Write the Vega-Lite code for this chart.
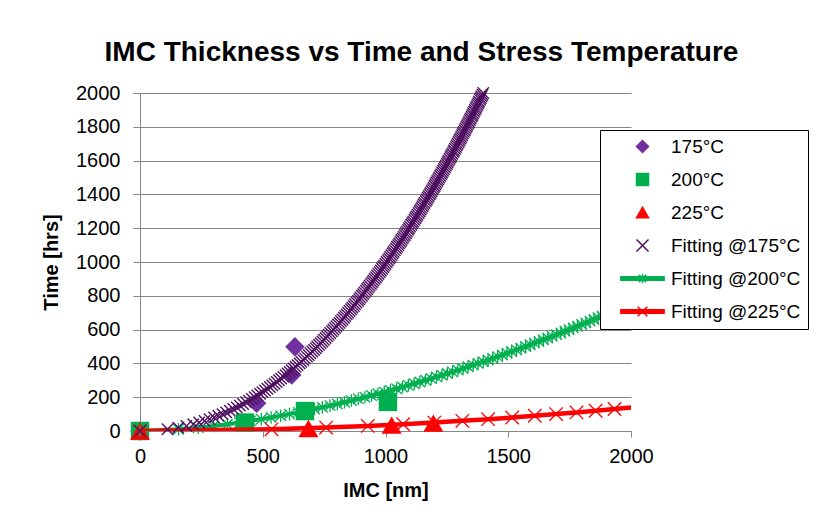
{
  "$schema": "https://vega.github.io/schema/vega-lite/v6.json",
  "width": 491,
  "height": 338,
  "autosize": {"type": "none"},
  "padding": {"left": 140, "top": 93, "right": 187, "bottom": 89},
  "background": "white",
  "title": {
    "text": "IMC Thickness vs Time and Stress Temperature",
    "font": "Liberation Sans",
    "fontSize": 28,
    "fontWeight": "bold",
    "color": "black",
    "anchor": "middle",
    "frame": "group",
    "dx": 36,
    "offset": 16
  },
  "config": {
    "view": {"stroke": null},
    "font": "Liberation Sans",
    "axis": {
      "domainColor": "#868686",
      "tickColor": "#868686",
      "gridColor": "#868686",
      "labelColor": "black",
      "titleColor": "black",
      "labelFont": "Liberation Sans",
      "titleFont": "Liberation Sans",
      "labelFontSize": 20,
      "titleFontSize": 20,
      "titleFontWeight": "bold",
      "labelFlush": false,
      "labelOverlap": false,
      "format": "d"
    },
    "legend": {
      "orient": "none",
      "legendX": 460,
      "legendY": 37,
      "strokeColor": "black",
      "fillColor": "white",
      "padding": 7,
      "labelFont": "Liberation Sans",
      "labelFontSize": 19,
      "labelColor": "black",
      "symbolSize": 144,
      "symbolOffset": 26,
      "labelOffset": 19,
      "rowPadding": 13,
      "symbolStrokeWidth": 1.5,
      "symbolOpacity": 1
    }
  },
  "datasets": {
    "m175": [{"x": 0, "t": 0}, {"x": 475, "t": 164}, {"x": 618, "t": 331}, {"x": 631, "t": 499}],
    "m200": [{"x": 0, "t": 0}, {"x": 428, "t": 50}, {"x": 672, "t": 118}, {"x": 1010, "t": 172}],
    "m225": [{"x": 0, "t": 0}, {"x": 686, "t": 15}, {"x": 1025, "t": 35}, {"x": 1195, "t": 47}],
    "f175": [
      {"x":0,"t":0},{"x":112,"t":10},{"x":156,"t":20},{"x":189,"t":30},{"x":217,"t":40},{"x":241,"t":50},{"x":263,"t":60},{"x":283,"t":70},{"x":302,"t":80},{"x":319,"t":90},
      {"x":336,"t":100},{"x":351,"t":110},{"x":366,"t":120},{"x":380,"t":130},{"x":394,"t":140},{"x":407,"t":150},{"x":420,"t":160},{"x":432,"t":170},{"x":444,"t":180},{"x":456,"t":190},
      {"x":467,"t":200},{"x":478,"t":210},{"x":489,"t":220},{"x":499,"t":230},{"x":509,"t":240},{"x":519,"t":250},{"x":529,"t":260},{"x":539,"t":270},{"x":548,"t":280},{"x":557,"t":290},
      {"x":566,"t":300},{"x":575,"t":310},{"x":584,"t":320},{"x":593,"t":330},{"x":601,"t":340},{"x":610,"t":350},{"x":618,"t":360},{"x":626,"t":370},{"x":634,"t":380},{"x":642,"t":390},
      {"x":650,"t":400},{"x":657,"t":410},{"x":665,"t":420},{"x":672,"t":430},{"x":680,"t":440},{"x":687,"t":450},{"x":694,"t":460},{"x":702,"t":470},{"x":709,"t":480},{"x":716,"t":490},
      {"x":722,"t":500},{"x":729,"t":510},{"x":736,"t":520},{"x":743,"t":530},{"x":749,"t":540},{"x":756,"t":550},{"x":763,"t":560},{"x":769,"t":570},{"x":775,"t":580},{"x":782,"t":590},
      {"x":788,"t":600},{"x":794,"t":610},{"x":800,"t":620},{"x":807,"t":630},{"x":813,"t":640},{"x":819,"t":650},{"x":825,"t":660},{"x":831,"t":670},{"x":836,"t":680},{"x":842,"t":690},
      {"x":848,"t":700},{"x":854,"t":710},{"x":860,"t":720},{"x":865,"t":730},{"x":871,"t":740},{"x":876,"t":750},{"x":882,"t":760},{"x":888,"t":770},{"x":893,"t":780},{"x":898,"t":790},
      {"x":904,"t":800},{"x":909,"t":810},{"x":914,"t":820},{"x":920,"t":830},{"x":925,"t":840},{"x":930,"t":850},{"x":935,"t":860},{"x":941,"t":870},{"x":946,"t":880},{"x":951,"t":890},
      {"x":956,"t":900},{"x":961,"t":910},{"x":966,"t":920},{"x":971,"t":930},{"x":976,"t":940},{"x":981,"t":950},{"x":986,"t":960},{"x":991,"t":970},{"x":995,"t":980},{"x":1000,"t":990},
      {"x":1005,"t":1000},{"x":1010,"t":1010},{"x":1015,"t":1020},{"x":1019,"t":1030},{"x":1024,"t":1040},{"x":1029,"t":1050},{"x":1033,"t":1060},{"x":1038,"t":1070},{"x":1043,"t":1080},{"x":1047,"t":1090},
      {"x":1052,"t":1100},{"x":1056,"t":1110},{"x":1061,"t":1120},{"x":1065,"t":1130},{"x":1070,"t":1140},{"x":1074,"t":1150},{"x":1079,"t":1160},{"x":1083,"t":1170},{"x":1087,"t":1180},{"x":1092,"t":1190},
      {"x":1096,"t":1200},{"x":1100,"t":1210},{"x":1105,"t":1220},{"x":1109,"t":1230},{"x":1113,"t":1240},{"x":1118,"t":1250},{"x":1122,"t":1260},{"x":1126,"t":1270},{"x":1130,"t":1280},{"x":1135,"t":1290},
      {"x":1139,"t":1300},{"x":1143,"t":1310},{"x":1147,"t":1320},{"x":1151,"t":1330},{"x":1155,"t":1340},{"x":1159,"t":1350},{"x":1164,"t":1360},{"x":1168,"t":1370},{"x":1172,"t":1380},{"x":1176,"t":1390},
      {"x":1180,"t":1400},{"x":1184,"t":1410},{"x":1188,"t":1420},{"x":1192,"t":1430},{"x":1196,"t":1440},{"x":1200,"t":1450},{"x":1203,"t":1460},{"x":1207,"t":1470},{"x":1211,"t":1480},{"x":1215,"t":1490},
      {"x":1219,"t":1500},{"x":1223,"t":1510},{"x":1227,"t":1520},{"x":1231,"t":1530},{"x":1234,"t":1540},{"x":1238,"t":1550},{"x":1242,"t":1560},{"x":1246,"t":1570},{"x":1250,"t":1580},{"x":1253,"t":1590},
      {"x":1257,"t":1600},{"x":1261,"t":1610},{"x":1265,"t":1620},{"x":1268,"t":1630},{"x":1272,"t":1640},{"x":1276,"t":1650},{"x":1279,"t":1660},{"x":1283,"t":1670},{"x":1287,"t":1680},{"x":1290,"t":1690},
      {"x":1294,"t":1700},{"x":1298,"t":1710},{"x":1301,"t":1720},{"x":1305,"t":1730},{"x":1308,"t":1740},{"x":1312,"t":1750},{"x":1315,"t":1760},{"x":1319,"t":1770},{"x":1323,"t":1780},{"x":1326,"t":1790},
      {"x":1330,"t":1800},{"x":1333,"t":1810},{"x":1337,"t":1820},{"x":1340,"t":1830},{"x":1344,"t":1840},{"x":1347,"t":1850},{"x":1351,"t":1860},{"x":1354,"t":1870},{"x":1357,"t":1880},{"x":1361,"t":1890},
      {"x":1364,"t":1900},{"x":1368,"t":1910},{"x":1371,"t":1920},{"x":1375,"t":1930},{"x":1378,"t":1940},{"x":1381,"t":1950},{"x":1385,"t":1960},{"x":1388,"t":1970},{"x":1391,"t":1980},{"x":1395,"t":1990},
      {"x":1398,"t":2000}
    ],
    "f200": [
      {"x":0,"t":0},{"x":157,"t":10},{"x":237,"t":20},{"x":300,"t":30},{"x":356,"t":40},{"x":405,"t":50},{"x":451,"t":60},{"x":494,"t":70},{"x":534,"t":80},{"x":573,"t":90},
      {"x":609,"t":100},{"x":645,"t":110},{"x":678,"t":120},{"x":711,"t":130},{"x":743,"t":140},{"x":774,"t":150},{"x":804,"t":160},{"x":833,"t":170},{"x":861,"t":180},{"x":889,"t":190},
      {"x":916,"t":200},{"x":943,"t":210},{"x":969,"t":220},{"x":995,"t":230},{"x":1020,"t":240},{"x":1045,"t":250},{"x":1069,"t":260},{"x":1093,"t":270},{"x":1117,"t":280},{"x":1140,"t":290},
      {"x":1163,"t":300},{"x":1186,"t":310},{"x":1208,"t":320},{"x":1230,"t":330},{"x":1252,"t":340},{"x":1273,"t":350},{"x":1295,"t":360},{"x":1316,"t":370},{"x":1336,"t":380},{"x":1357,"t":390},
      {"x":1377,"t":400},{"x":1398,"t":410},{"x":1418,"t":420},{"x":1437,"t":430},{"x":1457,"t":440},{"x":1476,"t":450},{"x":1495,"t":460},{"x":1514,"t":470},{"x":1533,"t":480},{"x":1552,"t":490},
      {"x":1571,"t":500},{"x":1589,"t":510},{"x":1607,"t":520},{"x":1625,"t":530},{"x":1643,"t":540},{"x":1661,"t":550},{"x":1679,"t":560},{"x":1697,"t":570},{"x":1714,"t":580},{"x":1731,"t":590},
      {"x":1748,"t":600},{"x":1765,"t":610},{"x":1782,"t":620},{"x":1799,"t":630},{"x":1816,"t":640},{"x":1833,"t":650},{"x":1849,"t":660},{"x":1866,"t":670},{"x":1882,"t":680},{"x":1898,"t":690},
      {"x":1914,"t":700},{"x":1930,"t":710},{"x":1946,"t":720},{"x":1962,"t":730},{"x":1978,"t":740},{"x":1993,"t":750},{"x":2009,"t":760}
    ],
    "f225": [
      {"x":0,"t":0},{"x":536,"t":10},{"x":758,"t":20},{"x":928,"t":30},{"x":1072,"t":40},{"x":1199,"t":50},{"x":1313,"t":60},{"x":1418,"t":70},
      {"x":1516,"t":80},{"x":1608,"t":90},{"x":1695,"t":100},{"x":1778,"t":110},{"x":1856,"t":120},{"x":1933,"t":130},{"x":2006,"t":140}
    ]
  },
  "encoding": {
    "x": {
      "field": "x",
      "type": "quantitative",
      "scale": {"domain": [0, 2000], "nice": false, "zero": false},
      "axis": {
        "values": [0, 500, 1000, 1500, 2000],
        "grid": false,
        "title": "IMC [nm]",
        "tickSize": 6,
        "labelPadding": 9,
        "titlePadding": 14
      }
    },
    "y": {
      "field": "t",
      "type": "quantitative",
      "scale": {"domain": [0, 2000], "nice": false, "zero": false},
      "axis": {
        "values": [0, 200, 400, 600, 800, 1000, 1200, 1400, 1600, 1800, 2000],
        "grid": true,
        "title": "Time [hrs]",
        "tickSize": 7,
        "labelPadding": 13,
        "titlePadding": 14
      }
    }
  },
  "layer": [
    {
      "data": {"name": "m175"},
      "mark": {"type": "point", "filled": true, "size": 380, "opacity": 1},
      "encoding": {
        "color": {
          "datum": "175°C",
          "type": "nominal",
          "scale": {
            "domain": ["175°C", "200°C", "225°C", "Fitting @175°C", "Fitting @200°C", "Fitting @225°C"],
            "range": ["#7030A0", "#00B050", "#FF0000", "#4F1060", "#00B050", "#FF0000"]
          },
          "legend": {"title": null}
        },
        "shape": {
          "datum": "175°C",
          "type": "nominal",
          "scale": {
            "domain": ["175°C", "200°C", "225°C", "Fitting @175°C", "Fitting @200°C", "Fitting @225°C"],
            "range": [
              "diamond",
              "square",
              "triangle-up",
              "M-1,-1L1,1M-1,1L1,-1",
              "M-3.6,-0.3L3.6,-0.3L3.6,0.3L-3.6,0.3ZM-0.6,-0.6L0.6,0.6M-0.6,0.6L0.6,-0.6M0,-0.8L0,0.8",
              "M-3.6,-0.3L3.6,-0.3L3.6,0.3L-3.6,0.3ZM-0.8,-0.8L0.8,0.8M-0.8,0.8L0.8,-0.8"
            ]
          },
          "legend": {"title": null}
        }
      }
    },
    {
      "data": {"name": "m200"},
      "mark": {"type": "point", "filled": true, "size": 340, "opacity": 1},
      "encoding": {
        "color": {"datum": "200°C", "type": "nominal", "legend": {"title": null}},
        "shape": {"datum": "200°C", "type": "nominal", "legend": {"title": null}}
      }
    },
    {
      "data": {"name": "m225"},
      "mark": {"type": "point", "filled": true, "size": 400, "opacity": 1},
      "encoding": {
        "color": {"datum": "225°C", "type": "nominal", "legend": {"title": null}},
        "shape": {"datum": "225°C", "type": "nominal", "legend": {"title": null}}
      }
    },
    {
      "data": {"name": "f200"},
      "mark": {"type": "line", "strokeWidth": 4, "clip": true},
      "encoding": {"color": {"datum": "Fitting @200°C", "type": "nominal", "legend": {"title": null}}}
    },
    {
      "data": {"name": "f200"},
      "transform": [{"filter": "datum.x <= 2000"}],
      "mark": {"type": "point", "shape": "M-1,-1L1,1M-1,1L1,-1M0,-1.2L0,1.2", "filled": false, "size": 110, "strokeWidth": 1.3, "opacity": 1},
      "encoding": {"color": {"datum": "Fitting @200°C", "type": "nominal", "legend": {"title": null}}}
    },
    {
      "data": {"name": "f225"},
      "mark": {"type": "line", "strokeWidth": 4.5, "clip": true},
      "encoding": {"color": {"datum": "Fitting @225°C", "type": "nominal", "legend": {"title": null}}}
    },
    {
      "data": {"name": "f225"},
      "transform": [{"filter": "datum.x <= 2000"}],
      "mark": {"type": "point", "shape": "M-1,-1L1,1M-1,1L1,-1", "filled": false, "size": 180, "strokeWidth": 1.3, "opacity": 1},
      "encoding": {"color": {"datum": "Fitting @225°C", "type": "nominal", "legend": {"title": null}}}
    },
    {
      "data": {"name": "f175"},
      "mark": {"type": "point", "filled": false, "size": 130, "strokeWidth": 1.4, "opacity": 1},
      "encoding": {
        "color": {"datum": "Fitting @175°C", "type": "nominal", "legend": {"title": null}},
        "shape": {"datum": "Fitting @175°C", "type": "nominal", "legend": {"title": null}}
      }
    }
  ]
}
